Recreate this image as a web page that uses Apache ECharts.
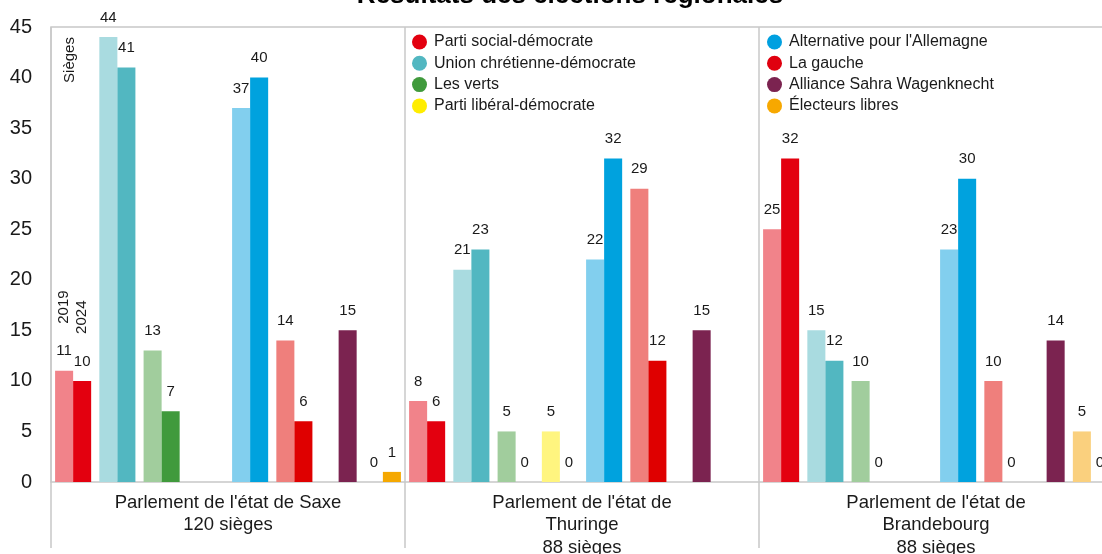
<!DOCTYPE html>
<html>
<head>
<meta charset="utf-8">
<script src="https://cdn.jsdelivr.net/npm/echarts@6/dist/echarts.min.js"></script>
<style>
html,body{margin:0;padding:0;background:#fff;}
#c{width:1102px;height:554px;}
</style>
</head>
<body>
<div id="c"></div>
<script>
// ---- data ----
const stateLabels = [
  "Parlement de l'état de Saxe\n120 sièges",
  "Parlement de l'état de\nThuringe\n88 sièges",
  "Parlement de l'état de\nBrandebourg\n88 sièges"
];
const parties = [
  "Parti social-démocrate",
  "Union chrétienne-démocrate",
  "Les verts",
  "Parti libéral-démocrate",
  "Alternative pour l'Allemagne",
  "La gauche",
  "Alliance Sahra Wagenknecht",
  "Électeurs libres"
];
const years = ["2019", "2024"];
const saxe2019 = [11, 44, 13, null, 37, 14, null, 0];
const saxe2024 = [10, 41, 7, null, 40, 6, 15, 1];
const thuringe2019 = [8, 21, 5, 5, 22, 29, null, null];
const thuringe2024 = [6, 23, 0, 0, 32, 12, 15, null];
const brandebourg2019 = [25, 15, 10, null, 23, 10, null, 5];
const brandebourg2024 = [32, 12, 0, null, 30, 0, 14, 0];
const yTicks = [0, 5, 10, 15, 20, 25, 30, 35, 40, 45];

// ---- styles ----
const lightColors = ['#F1838A', '#A9DBE0', '#A1CD9D', '#FFF57F', '#82CFEE', '#EF7F7C', '#7B2350', '#FAD07E'];
const darkColors  = ['#E3000F', '#52B7C1', '#409A3C', '#FFED00', '#00A2DE', '#DF0000', '#7B2350', '#F5A800'];
const legendColors = ['#E3000F', '#52B7C1', '#409A3C', '#FFED00', '#00A0E0', '#E0000F', '#7B2350', '#F7A800'];
const FONT = "'Liberation Sans', Arial, sans-serif";
const TXT = '#1a1a1a';
const LINE = '#c8c8c8';

const byYear = [
  [saxe2019, thuringe2019, brandebourg2019],
  [saxe2024, thuringe2024, brandebourg2024]
];
const nS = stateLabels.length, nP = parties.length;
const cats = [];
for (let s = 0; s < nS; s++) for (let p = 0; p < nP; p++) cats.push(s + '-' + p);

const series = [];
years.forEach((yr, yi) => {
  parties.forEach((party, p) => {
    const data = cats.map(() => null);
    for (let s = 0; s < nS; s++) data[s * nP + p] = byYear[yi][s][p];
    series.push({
      name: party,
      type: 'bar',
      stack: 'y' + yr,
      xAxisIndex: 0,
      yAxisIndex: 0,
      barGap: '0%',
      barCategoryGap: '18.5%',
      itemStyle: { color: yi === 0 ? lightColors[p] : darkColors[p] },
      label: {
        show: true, position: 'top', distance: 12,
        fontFamily: FONT, fontSize: 15, color: TXT
      },
      data: data
    });
  });
});

const chart = echarts.init(document.getElementById('c'), null, { renderer: 'canvas' });
const option = {
  animation: false,
  backgroundColor: '#fff',
  grid: {
    left: 51, top: 27, width: 1062, height: 455,
    containLabel: false, outerBoundsMode: 'none',
    show: true, borderColor: LINE, borderWidth: 1.5, backgroundColor: 'transparent'
  },
  legend: [
    {
      data: parties.slice(0, 4).map((n, i) => ({ name: n, itemStyle: { color: legendColors[i] } })),
      orient: 'vertical', left: 412, top: 34, padding: 0,
      icon: 'circle', itemWidth: 19, itemHeight: 15, itemGap: 5.3,
      selectedMode: false,
      textStyle: { fontFamily: FONT, fontSize: 16, color: TXT }
    },
    {
      data: parties.slice(4).map((n, i) => ({ name: n, itemStyle: { color: legendColors[i + 4] } })),
      orient: 'vertical', left: 767, top: 34, padding: 0,
      icon: 'circle', itemWidth: 19, itemHeight: 15, itemGap: 5.3,
      selectedMode: false,
      textStyle: { fontFamily: FONT, fontSize: 16, color: TXT }
    }
  ],
  xAxis: [
    {
      type: 'category', data: cats, boundaryGap: true,
      axisLine: { show: false }, axisTick: { show: false }, axisLabel: { show: false },
      splitLine: { show: false }
    },
    {
      type: 'category', data: stateLabels, boundaryGap: true, position: 'bottom',
      axisLine: { show: false },
      axisTick: { show: true, length: 66, inside: false, lineStyle: { color: LINE, width: 1.5 } },
      axisLabel: {
        show: true, interval: 0, margin: 9.5,
        fontFamily: FONT, fontSize: 18.5, lineHeight: 22.5, color: TXT, align: 'center'
      },
      splitLine: { show: true, lineStyle: { color: LINE, width: 1.5 } }
    }
  ],
  yAxis: {
    type: 'value', min: 0, max: 45, interval: 5,
    axisLine: { show: false }, axisTick: { show: false }, splitLine: { show: false },
    axisLabel: {
      margin: 19, fontFamily: FONT, fontSize: 20, color: TXT,
      formatter: v => (yTicks.indexOf(v) >= 0 ? String(v) : '')
    }
  },
  series: series
};
chart.setOption(option);

// ---- annotations placed from the axes ----
const cx = chart.convertToPixel({ xAxisIndex: 0 }, cats[0]);
const catW = chart.convertToPixel({ xAxisIndex: 0 }, cats[1]) - cx;
const barW = catW * (1 - 0.185) / 2;
const yearGraphics = years.map((yr, yi) => {
  const v = byYear[yi][0][0];
  const top = chart.convertToPixel({ yAxisIndex: 0 }, v);
  const x = cx + (yi === 0 ? -barW / 2 : barW / 2);
  return {
    type: 'text', x: x, y: top - 47, rotation: Math.PI / 2,
    style: { text: yr, font: "15px " + FONT, fill: TXT, textAlign: 'left', textVerticalAlign: 'middle' }
  };
});
chart.setOption({
  graphic: [
    {
      type: 'text', x: 570, y: -17.5,
      style: {
        text: 'Résultats des élections régionales', font: "bold 26px " + FONT,
        fill: '#000', textAlign: 'center', textVerticalAlign: 'top'
      }
    },
    {
      type: 'text', x: 69.5, y: 60, rotation: Math.PI / 2,
      style: { text: 'Sièges', font: "15px " + FONT, fill: TXT, textAlign: 'center', textVerticalAlign: 'middle' }
    }
  ].concat(yearGraphics)
});
</script>
</body>
</html>
